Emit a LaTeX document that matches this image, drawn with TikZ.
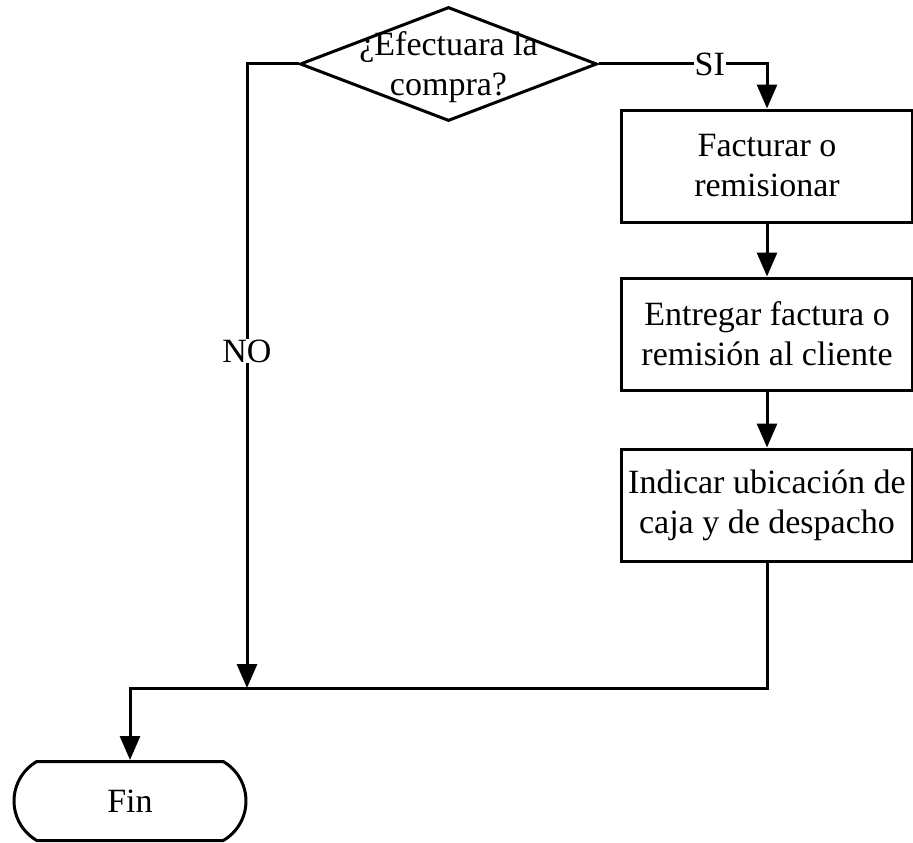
\documentclass[tikz,border=0pt]{standalone}
\usepackage{fontspec}
\setmainfont{Liberation Serif}
\usetikzlibrary{shapes.geometric,shapes.misc,arrows.meta}
\begin{document}
\begin{tikzpicture}[x=1pt,y=-1pt,
  every node/.style={font=\fontsize{34}{40}\selectfont},
  ln/.style={line width=3pt},
  arr/.style={ln,-{Triangle[width=20pt,length=24pt]}},
  procbox/.style={draw,line width=3pt,rectangle,minimum width=291pt,minimum height=112pt,align=center,inner sep=0pt},
  decision/.style={draw,line width=3pt,diamond,minimum width=297pt,minimum height=114pt,inner sep=0pt},
  term/.style={draw,line width=3pt,rounded rectangle,rounded rectangle arc length=120,minimum width=232pt,minimum height=79pt,inner sep=0pt},
  lbl/.style={fill=white,inner sep=1pt}]
\useasboundingbox (0,0) rectangle (913,843);
\node[decision] (d) at (448.5,64) {};
\node[align=center,inner sep=0pt] (dt) at (448.5,67) {¿Efectuara la\\compra?};
\node[procbox] (b1) at (767,166) {Facturar o\\remisionar};
\node[procbox] (b2) at (767,334) {Entregar factura o\\remisión al cliente};
\node[procbox] (b3) at (767,505) {Indicar ubicación de\\caja y de despacho};
\node[term] (fin) at (130,801) {Fin};
\coordinate (jl) at (247,688);
\coordinate (jf) at (130,688);
\coordinate (jr) at (768,688);
\draw[arr] (d.east) -| node[lbl,pos=0.33] {SI} (b1.north);
\draw[arr] (b1) -- (b2);
\draw[arr] (b2) -- (b3);
\draw[arr] (d.west) -| node[lbl,pos=0.73] {NO} (jl);
\draw[arr] (b3.south) |- (jf) -- (fin.north);
\end{tikzpicture}
\end{document}
